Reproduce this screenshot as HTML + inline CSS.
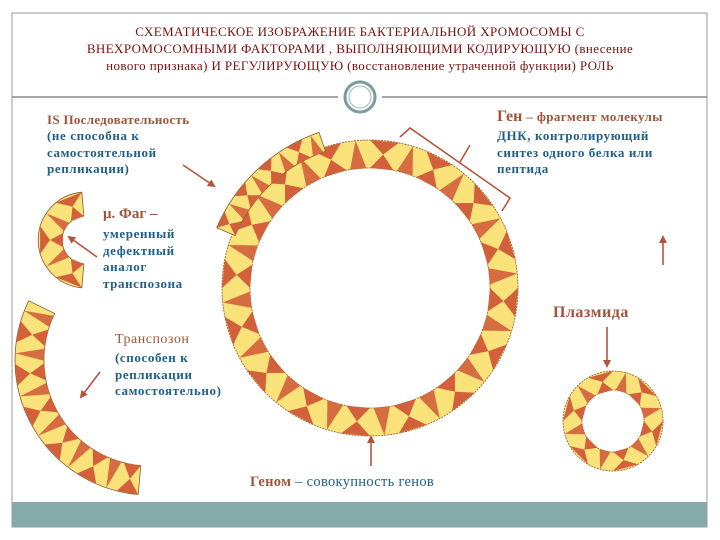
<!DOCTYPE html>
<html><head><meta charset="utf-8"><style>
body{margin:0;width:720px;height:540px;background:#fff;overflow:hidden;position:relative;font-family:"Liberation Serif","DejaVu Serif",serif}
.t{position:absolute;white-space:nowrap}
.ti{color:#7a1010;font-size:13px;left:0;width:720px;text-align:center;letter-spacing:0.4px}
.br{color:#a0553a;font-weight:bold}
.bl{color:#1f5f8b;font-weight:bold;font-size:13px;line-height:16.5px;letter-spacing:0.6px}
</style></head><body>
<svg id="s" width="720" height="540" style="position:absolute;left:0;top:0">
<defs><marker id="a" markerWidth="8" markerHeight="8" refX="6" refY="4" orient="auto" markerUnits="userSpaceOnUse"><path d="M0,0L8,4L0,8z" fill="#b5543c"/></marker></defs>
<rect x="12" y="13" width="695" height="514" fill="none" stroke="#999" stroke-width="1"/>
<rect x="12" y="502" width="695" height="25" fill="#86a9a9"/>
<line x1="12" y1="97" x2="338" y2="97" stroke="#888" stroke-width="1.5"/>
<line x1="382" y1="97" x2="707" y2="97" stroke="#888" stroke-width="1.5"/>
<circle cx="360" cy="97" r="15" fill="none" stroke="#7a9c9c" stroke-width="3"/>
<circle cx="360" cy="97" r="11" fill="none" stroke="#9bb" stroke-width="1"/>
<g id="rings"></g>
<g stroke="#b5543c" stroke-width="1.6" fill="none">
<line x1="183" y1="165" x2="214" y2="186" marker-end="url(#a)"/>
<line x1="97" y1="257" x2="69" y2="237" marker-end="url(#a)"/>
<line x1="100" y1="372" x2="81" y2="397" marker-end="url(#a)"/>
<line x1="607" y1="327" x2="607" y2="366" marker-end="url(#a)"/>
<line x1="663" y1="265" x2="663" y2="237" marker-end="url(#a)"/>
<line x1="371" y1="466" x2="371" y2="437" marker-end="url(#a)"/>
<polyline points="400,137 410,128 510,198 502,211"/>
<line x1="460" y1="162" x2="470" y2="145"/>
</g>
</svg>
<div class="t ti" style="top:24px">СХЕМАТИЧЕСКОЕ ИЗОБРАЖЕНИЕ БАКТЕРИАЛЬНОЙ ХРОМОСОМЫ С</div>
<div class="t ti" style="top:41px">ВНЕХРОМОСОМНЫМИ ФАКТОРАМИ , ВЫПОЛНЯЮЩИМИ КОДИРУЮЩУЮ (внесение</div>
<div class="t ti" style="top:58px">нового признака) И РЕГУЛИРУЮЩУЮ (восстановление утраченной функции) РОЛЬ</div>
<div class="t br" style="left:47px;top:112px;font-size:13px;letter-spacing:0.3px">IS Последовательность</div>
<div class="t bl" style="left:47px;top:128px">(не способна к<br>самостоятельной<br>репликации)</div>
<div class="t" style="left:497px;top:108px;color:#a0553a;font-weight:bold;font-size:16px">Ген <span style="font-size:13px;letter-spacing:0.4px">– фрагмент молекулы</span></div>
<div class="t bl" style="left:497px;top:128px">ДНК, контролирующий<br>синтез одного белка или<br>пептида</div>
<div class="t br" style="left:103px;top:206px;font-size:15px">μ. Фаг –</div>
<div class="t bl" style="left:103px;top:226px">умеренный<br>дефектный<br>аналог<br>транспозона</div>
<div class="t br" style="left:553px;top:304px;font-size:16px;letter-spacing:0.5px">Плазмида</div>
<div class="t" style="left:115px;top:332px;color:#a0553a;font-size:14px;letter-spacing:0.5px">Транспозон</div>
<div class="t bl" style="left:115px;top:350px">(способен к<br>репликации<br>самостоятельно)</div>
<div class="t" style="left:250px;top:474px;font-size:14.5px;color:#1f5f8b;letter-spacing:0.3px"><b style="color:#a0553a">Геном</b> – совокупность генов</div>
<script>
var g=document.getElementById('rings'),h='';
function P(cx,cy,r,a){a=a*Math.PI/180;return (cx+r*Math.cos(a)).toFixed(1)+','+(cy+r*Math.sin(a)).toFixed(1);}
function band(cx,cy,ro,ri,a0,a1,n){
 var full=(a1-a0)>=359.9, lf=(a1-a0)>180?1:0;
 if(full){h+='<circle cx="'+cx+'" cy="'+cy+'" r="'+(ro+ri)/2+'" fill="none" stroke="#f9e27a" stroke-width="'+(ro-ri)+'"/>';
  h+='<circle cx="'+cx+'" cy="'+cy+'" r="'+ro+'" fill="none" stroke="#8a5a2a" stroke-width="0.8" stroke-dasharray="2,1"/><circle cx="'+cx+'" cy="'+cy+'" r="'+ri+'" fill="none" stroke="#8a5a2a" stroke-width="0.8" stroke-dasharray="2,1"/>';}
 else h+='<path d="M'+P(cx,cy,ro,a0)+'A'+ro+','+ro+' 0 '+lf+' 1 '+P(cx,cy,ro,a1)+'L'+P(cx,cy,ri,a1)+'A'+ri+','+ri+' 0 '+lf+' 0 '+P(cx,cy,ri,a0)+'Z" fill="#f9e27a" stroke="#8a5a2a" stroke-width="0.8"/>';
 var d=(a1-a0)/n, rm=(ro+ri)/2;
 for(var i=0;i<n;i++){var s=a0+i*d,m=s+d/2,e=s+d;
  if(i%2==0){h+='<polygon points="'+P(cx,cy,ro,s)+' '+P(cx,cy,ro,e)+' '+P(cx,cy,rm,m)+'" fill="#d2603a"/>';
   h+='<polygon points="'+P(cx,cy,ri,s)+' '+P(cx,cy,ri,e)+' '+P(cx,cy,rm,m)+'" fill="#d2603a"/>';}
  else{h+='<polygon points="'+P(cx,cy,ro,m)+' '+P(cx,cy,ri,s+d*0.15)+' '+P(cx,cy,ri,e-d*0.15)+'" fill="#d2603a" opacity="0.9"/>';}
 }
}
band(370,288,148,120,0,360,32);
band(375,295,172,152,203,251,8);
band(86,240,48,24,95,265,5);
band(150,360,135,106,95,206,12);
band(613,421,50,31,0,360,12);
g.innerHTML=h;
</script>
</body></html>
